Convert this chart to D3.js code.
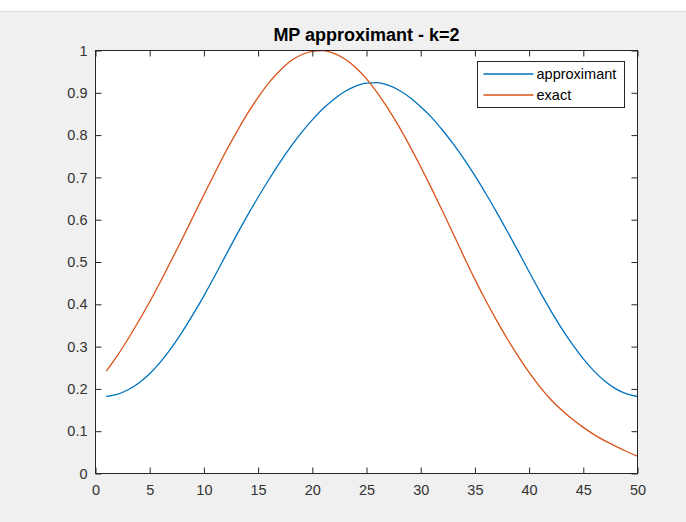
<!DOCTYPE html>
<html>
<head>
<meta charset="utf-8">
<script src="https://cdn.jsdelivr.net/npm/d3@7/dist/d3.min.js"></script>
<style>
  html, body { margin: 0; padding: 0; background: #ffffff; }
  svg { display: block; }
  text { font-family: "Liberation Sans", Arial, Helvetica, sans-serif; }
</style>
</head>
<body>
<svg id="chart" width="686" height="522"></svg>
<script>
// ---- data ----
const xValues = d3.range(1, 51);
const approximant = [
  0.182, 0.187, 0.198, 0.214, 0.236, 0.264, 0.297, 0.335, 0.376, 0.420,
  0.467, 0.515, 0.563, 0.609, 0.653, 0.695, 0.735, 0.772, 0.806, 0.836,
  0.863, 0.885, 0.903, 0.916, 0.923, 0.924, 0.918, 0.906, 0.889, 0.867,
  0.842, 0.812, 0.779, 0.743, 0.704, 0.662, 0.618, 0.572, 0.525, 0.477,
  0.430, 0.385, 0.343, 0.305, 0.271, 0.242, 0.218, 0.200, 0.188, 0.182
];
const exact = [
  0.242, 0.278, 0.318, 0.361, 0.406, 0.454, 0.504, 0.555, 0.607, 0.659,
  0.710, 0.760, 0.806, 0.850, 0.889, 0.924, 0.952, 0.975, 0.990, 0.998,
  0.9996, 0.993, 0.980, 0.960, 0.933, 0.900, 0.862, 0.820, 0.774, 0.725,
  0.674, 0.621, 0.567, 0.512, 0.459, 0.409, 0.362, 0.318, 0.277, 0.239,
  0.205, 0.175, 0.150, 0.128, 0.109, 0.092, 0.077, 0.064, 0.052, 0.041
];
const seriesNames = ["approximant", "exact"];
const seriesColors = ["#0072BD", "#D95319"];
const xTicks = [0, 5, 10, 15, 20, 25, 30, 35, 40, 45, 50];
const yTicks = [0, 0.1, 0.2, 0.3, 0.4, 0.5, 0.6, 0.7, 0.8, 0.9, 1];
const yTickLabels = ["0", "0.1", "0.2", "0.3", "0.4", "0.5", "0.6", "0.7", "0.8", "0.9", "1"];
const titleText = "MP approximant - k=2";

// ---- layout ----
const W = 686, H = 522;
const plot = { left: 95.5, right: 637.5, top: 50.5, bottom: 473.5 };
const axisColor = "#262626";
const textColor = "#333333";

const svg = d3.select("#chart");

// figure background
svg.append("rect").attr("x", 0).attr("y", 0).attr("width", W).attr("height", H).attr("fill", "#ffffff");
svg.append("rect").attr("x", 0).attr("y", 12).attr("width", W).attr("height", H - 12).attr("fill", "#f0f0f0");
svg.append("line").attr("x1", 0).attr("x2", W).attr("y1", 11.5).attr("y2", 11.5)
  .attr("stroke", "#dcdcdc").attr("stroke-width", 1);

const x = d3.scaleLinear().domain([0, 50]).range([plot.left, plot.right]);
const y = d3.scaleLinear().domain([0, 1]).range([plot.bottom, plot.top]);

// plot area
svg.append("rect")
  .attr("x", plot.left).attr("y", plot.top)
  .attr("width", plot.right - plot.left).attr("height", plot.bottom - plot.top)
  .attr("fill", "#ffffff");

const defs = svg.append("defs");
defs.append("clipPath").attr("id", "clip").append("rect")
  .attr("x", plot.left).attr("y", plot.top - 1)
  .attr("width", plot.right - plot.left).attr("height", plot.bottom - plot.top + 1);

// lines
const line = d3.line().x((d, i) => x(xValues[i])).y(d => y(d)).curve(d3.curveMonotoneX);
const gLines = svg.append("g").attr("clip-path", "url(#clip)");
[approximant, exact].forEach((vals, k) => {
  gLines.append("path")
    .datum(vals)
    .attr("d", line)
    .attr("fill", "none")
    .attr("stroke", seriesColors[k])
    .attr("stroke-width", 1.3)
    .attr("stroke-linejoin", "round");
});

// axes
const tickLen = 6;
function styleAxis(g) {
  g.select(".domain").remove();
  g.selectAll(".tick line").attr("stroke", axisColor).attr("stroke-width", 1);
  g.selectAll(".tick text")
    .attr("fill", textColor)
    .style("font-size", "14.5px")
    .style("font-family", "'Liberation Sans', Arial, Helvetica, sans-serif");
}

svg.append("g")
  .attr("transform", `translate(0,${plot.bottom})`)
  .call(d3.axisBottom(x).tickValues(xTicks).tickSizeInner(-tickLen).tickSizeOuter(0).tickPadding(11).tickFormat(d3.format("d")))
  .call(styleAxis);

svg.append("g")
  .attr("transform", `translate(${plot.left},0)`)
  .call(d3.axisLeft(y).tickValues(yTicks).tickSizeInner(-tickLen).tickSizeOuter(0).tickPadding(8)
    .tickFormat((d, i) => yTickLabels[i]))
  .call(styleAxis);

svg.append("g")
  .attr("transform", `translate(0,${plot.top})`)
  .call(d3.axisTop(x).tickValues(xTicks).tickSizeInner(-tickLen).tickSizeOuter(0).tickFormat(""))
  .call(styleAxis);

svg.append("g")
  .attr("transform", `translate(${plot.right},0)`)
  .call(d3.axisRight(y).tickValues(yTicks).tickSizeInner(-tickLen).tickSizeOuter(0).tickFormat(""))
  .call(styleAxis);

// box
svg.append("rect")
  .attr("x", plot.left).attr("y", plot.top)
  .attr("width", plot.right - plot.left).attr("height", plot.bottom - plot.top)
  .attr("fill", "none").attr("stroke", axisColor).attr("stroke-width", 1);

// title
svg.append("text")
  .attr("x", (plot.left + plot.right) / 2)
  .attr("y", 41)
  .attr("text-anchor", "middle")
  .attr("fill", "#000000")
  .style("font-size", "18px")
  .style("font-weight", "bold")
  .text(titleText);

// legend
const leg = { x: 477.5, y: 61.5, w: 147, h: 46 };
svg.append("rect")
  .attr("x", leg.x).attr("y", leg.y).attr("width", leg.w).attr("height", leg.h)
  .attr("fill", "#ffffff").attr("stroke", axisColor).attr("stroke-width", 1);
seriesNames.forEach((name, k) => {
  const cy = leg.y + 12.5 + k * 21;
  svg.append("line")
    .attr("x1", leg.x + 6).attr("x2", leg.x + 56)
    .attr("y1", cy).attr("y2", cy)
    .attr("stroke", seriesColors[k]).attr("stroke-width", 1.3);
  svg.append("text")
    .attr("x", leg.x + 59).attr("y", cy)
    .attr("dy", "0.35em")
    .attr("fill", "#000000")
    .style("font-size", "14.5px")
    .text(name);
});
</script>
</body>
</html>
